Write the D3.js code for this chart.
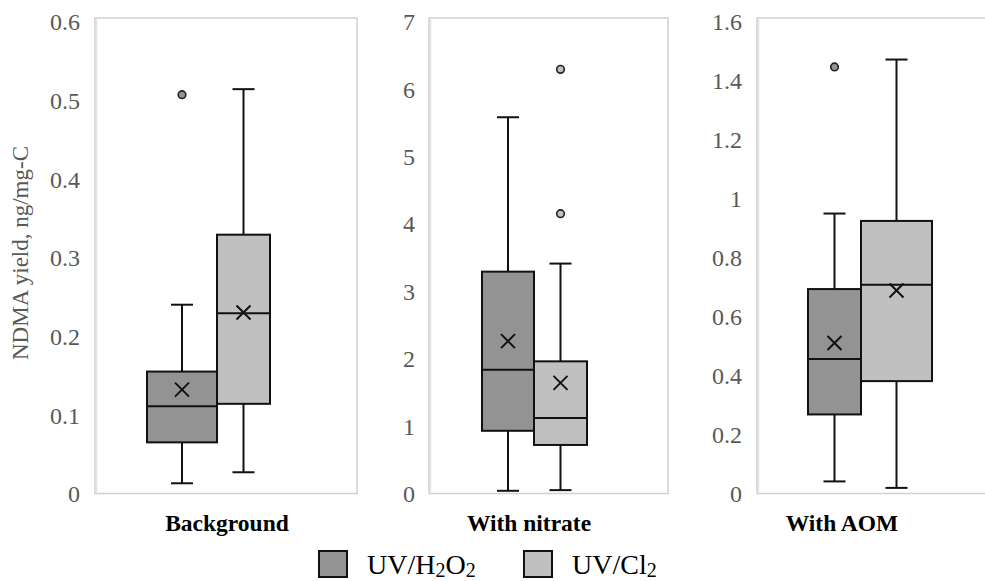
<!DOCTYPE html>
<html>
<head>
<meta charset="utf-8">
<script src="https://cdn.jsdelivr.net/npm/d3@7"></script>
<style>
  html, body { margin: 0; padding: 0; background: #fff; }
  svg { display: block; }
  text { font-family: 'Liberation Serif', 'Times New Roman', serif; }
</style>
</head>
<body>
<svg id="chart" width="985" height="581"></svg>
<script>
// ---------------- DATA ----------------
const panels = ["Background", "With nitrate", "With AOM"];
const seriesNames = ["UV/H2O2", "UV/Cl2"];
const yMax = [0.6, 7, 1.6];
const yTicks = [
  [0, 0.1, 0.2, 0.3, 0.4, 0.5, 0.6],
  [0, 1, 2, 3, 4, 5, 6, 7],
  [0, 0.2, 0.4, 0.6, 0.8, 1, 1.2, 1.4, 1.6]
];
const yTickLabels = [
  ["0", "0.1", "0.2", "0.3", "0.4", "0.5", "0.6"],
  ["0", "1", "2", "3", "4", "5", "6", "7"],
  ["0", "0.2", "0.4", "0.6", "0.8", "1", "1.2", "1.4", "1.6"]
];
// per series: [panel1, panel2, panel3]
const h2o2WhiskerLow  = [0.013, 0.04, 0.041];
const h2o2Q1          = [0.065, 0.93, 0.268];
const h2o2Median      = [0.111, 1.835, 0.456];
const h2o2Q3          = [0.155, 3.29, 0.693];
const h2o2WhiskerHigh = [0.240, 5.58, 0.949];
const h2o2Mean        = [0.132, 2.26, 0.510];
const h2o2Outliers    = [[0.507], [], [1.446]];

const cl2WhiskerLow  = [0.027, 0.05, 0.019];
const cl2Q1          = [0.114, 0.72, 0.381];
const cl2Median      = [0.229, 1.12, 0.708];
const cl2Q3          = [0.329, 1.96, 0.924];
const cl2WhiskerHigh = [0.514, 3.41, 1.471];
const cl2Mean        = [0.230, 1.64, 0.688];
const cl2Outliers    = [[], [6.29, 4.15], []];

const yAxisTitle = "NDMA yield, ng/mg-C";

// ---------------- LAYOUT ----------------
const frames = [
  { left: 95,  right: 357, labelRight: 80,  catX: 227 },
  { left: 429, right: 668, labelRight: 415, catX: 529 },
  { left: 757, right: 992, labelRight: 742, catX: 842 }
];
// box edges in each panel: [left of series 1, split, right of series 2]
const boxEdges = [[147, 217, 270], [482, 534, 587], [808, 861, 932]];
const frameTop = 18, yBottom = 493.5, yTopVal = 21.5;
const fills = ["#939393", "#c0c0c0"];
const capW = 22;

const svg = d3.select("#chart");
const serif = "'Liberation Serif', 'Times New Roman', serif";

const seriesData = [
  { name: seriesNames[0], lo: h2o2WhiskerLow, q1: h2o2Q1, med: h2o2Median, q3: h2o2Q3, hi: h2o2WhiskerHigh, mean: h2o2Mean, out: h2o2Outliers },
  { name: seriesNames[1], lo: cl2WhiskerLow, q1: cl2Q1, med: cl2Median, q3: cl2Q3, hi: cl2WhiskerHigh, mean: cl2Mean, out: cl2Outliers }
];

panels.forEach((p, i) => {
  const f = frames[i];
  const y = d3.scaleLinear().domain([0, yMax[i]]).range([yBottom, yTopVal]);
  const g = svg.append("g");

  // frame
  g.append("rect")
    .attr("x", f.left).attr("y", frameTop)
    .attr("width", f.right - f.left).attr("height", yBottom - frameTop)
    .attr("fill", "none").attr("stroke", "#d0d0d0").attr("stroke-width", 1.5);
  g.append("line")
    .attr("x1", f.left + 1.5).attr("x2", f.left + 1.5)
    .attr("y1", frameTop).attr("y2", yBottom)
    .attr("stroke", "#e2e2e2").attr("stroke-width", 1.5);

  // y axis labels
  const axis = d3.axisLeft(y).tickValues(yTicks[i])
    .tickFormat((d, k) => yTickLabels[i][k]).tickSize(0).tickPadding(0);
  const ag = g.append("g").attr("transform", `translate(${f.labelRight},0)`).call(axis);
  ag.attr("font-family", null).attr("font-size", null);
  ag.select(".domain").remove();
  ag.selectAll("text")
    .style("font-family", serif).style("font-size", "24px")
    .attr("fill", "#595959").attr("dy", "0.34em");

  const e = boxEdges[i];
  const xs = [[e[0], e[1]], [e[1], e[2]]];

  seriesData.forEach((s, k) => {
    const x0 = xs[k][0], x1 = xs[k][1], cx = (x0 + x1) / 2;
    g.append("line").attr("x1", cx).attr("x2", cx)
      .attr("y1", y(s.q3[i])).attr("y2", y(s.hi[i]))
      .attr("stroke", "#111").attr("stroke-width", 2);
    g.append("line").attr("x1", cx).attr("x2", cx)
      .attr("y1", y(s.q1[i])).attr("y2", y(s.lo[i]))
      .attr("stroke", "#111").attr("stroke-width", 2);
    [s.hi[i], s.lo[i]].forEach(v => {
      g.append("line").attr("x1", cx - capW / 2).attr("x2", cx + capW / 2)
        .attr("y1", y(v)).attr("y2", y(v))
        .attr("stroke", "#111").attr("stroke-width", 2);
    });
  });
  seriesData.forEach((s, k) => {
    const x0 = xs[k][0], x1 = xs[k][1], cx = (x0 + x1) / 2;
    g.append("rect")
      .attr("x", x0).attr("y", y(s.q3[i]))
      .attr("width", x1 - x0).attr("height", y(s.q1[i]) - y(s.q3[i]))
      .attr("fill", fills[k]).attr("stroke", "#111").attr("stroke-width", 2);
    g.append("line").attr("x1", x0).attr("x2", x1)
      .attr("y1", y(s.med[i])).attr("y2", y(s.med[i]))
      .attr("stroke", "#111").attr("stroke-width", 2);
    const my = y(s.mean[i]), r = 7;
    g.append("path")
      .attr("d", `M${cx - r},${my - r}L${cx + r},${my + r}M${cx - r},${my + r}L${cx + r},${my - r}`)
      .attr("stroke", "#111").attr("stroke-width", 2).attr("fill", "none");
    s.out[i].forEach(v => {
      g.append("circle").attr("cx", cx).attr("cy", y(v)).attr("r", 3.8)
        .attr("fill", fills[k]).attr("stroke", "#222").attr("stroke-width", 1.6);
    });
  });

  svg.append("text")
    .attr("x", f.catX).attr("y", 531)
    .attr("text-anchor", "middle")
    .style("font-family", serif).style("font-size", "23.5px").style("font-weight", "bold")
    .attr("fill", "#000").text(p);
});

// y axis title
svg.append("text")
  .attr("transform", "translate(28,253) rotate(-90)")
  .attr("text-anchor", "middle")
  .style("font-family", serif).style("font-size", "23px")
  .attr("fill", "#595959").text(yAxisTitle);

// legend
const legendItems = [
  { fill: fills[0], x: 318, parts: [["UV/H", false], ["2", true], ["O", false], ["2", true]] },
  { fill: fills[1], x: 523, parts: [["UV/Cl", false], ["2", true]] }
];
legendItems.forEach(it => {
  svg.append("rect").attr("x", it.x + 1).attr("y", 551).attr("width", 28).attr("height", 26)
    .attr("fill", it.fill).attr("stroke", "#111").attr("stroke-width", 2);
  const t = svg.append("text").attr("x", it.x + 49).attr("y", 574)
    .style("font-family", serif).style("font-size", "28px").attr("fill", "#000");
  let shifted = false;
  it.parts.forEach(([txt, sub]) => {
    const ts = t.append("tspan").text(txt);
    if (sub && !shifted) { ts.attr("dy", 3); shifted = true; }
    else if (!sub && shifted) { ts.attr("dy", -3); shifted = false; }
    if (sub) ts.style("font-size", "20px");
  });
});
</script>
</body>
</html>
